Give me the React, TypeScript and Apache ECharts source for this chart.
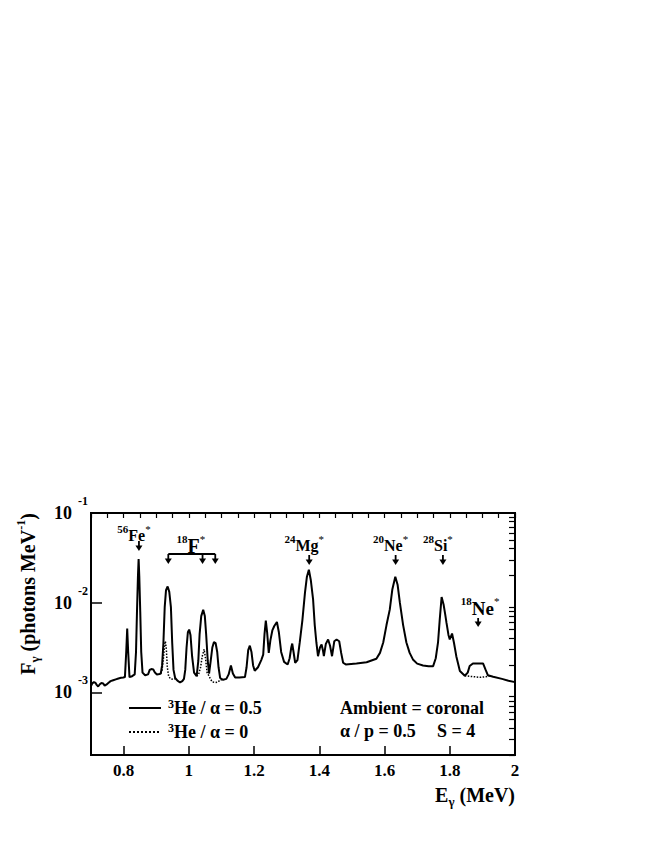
import React, { useEffect, useRef } from 'react';
import * as echarts from 'echarts';

const FONT = 'Liberation Serif';

// Axis ranges and ticks
const xMin = 0.7;
const xMax = 2.0;
const yMin = 2e-4;
const yMax = 0.1;
const xMajorTicks = [0.8, 1.0, 1.2, 1.4, 1.6, 1.8, 2.0];
const yDecades = [1e-3, 1e-2, 1e-1];
const yMinorTicks = [
  2e-4, 3e-4, 4e-4, 5e-4, 6e-4, 7e-4, 8e-4, 9e-4,
  2e-3, 3e-3, 4e-3, 5e-3, 6e-3, 7e-3, 8e-3, 9e-3,
  2e-2, 3e-2, 4e-2, 5e-2, 6e-2, 7e-2, 8e-2, 9e-2,
];

// Series: [E_gamma (MeV), log10 F_gamma (photons MeV^-1)]
const ratioLabels = ['0.5', '0'];
const fluxRatio05: [number, number][] = [
  [0.700, -2.93], [0.704, -2.90], [0.709, -2.885], [0.714, -2.895], [0.718, -2.92], [0.722, -2.935],
  [0.727, -2.91], [0.732, -2.895], [0.737, -2.90], [0.742, -2.925], [0.747, -2.915], [0.753, -2.895],
  [0.760, -2.875], [0.768, -2.865], [0.776, -2.855], [0.784, -2.845], [0.792, -2.838], [0.799, -2.835],
  [0.804, -2.83], [0.808, -2.55], [0.811, -2.29], [0.814, -2.55], [0.818, -2.83], [0.826, -2.82],
  [0.834, -2.80], [0.838, -2.55], [0.841, -2.10], [0.844, -1.70], [0.846, -1.514], [0.848, -1.70],
  [0.851, -2.10], [0.854, -2.55], [0.858, -2.78], [0.866, -2.81], [0.875, -2.80], [0.880, -2.75],
  [0.885, -2.74], [0.891, -2.745], [0.896, -2.78], [0.902, -2.80], [0.910, -2.795], [0.914, -2.79],
  [0.918, -2.70], [0.922, -2.45], [0.926, -2.05], [0.930, -1.86], [0.935, -1.82], [0.940, -1.88],
  [0.945, -2.05], [0.949, -2.45], [0.953, -2.75], [0.958, -2.84], [0.965, -2.87], [0.973, -2.89],
  [0.980, -2.875], [0.985, -2.85], [0.989, -2.75], [0.993, -2.50], [0.997, -2.33], [1.001, -2.30],
  [1.005, -2.36], [1.010, -2.60], [1.016, -2.78], [1.024, -2.82], [1.029, -2.65], [1.033, -2.35],
  [1.038, -2.15], [1.044, -2.08], [1.049, -2.15], [1.053, -2.35], [1.058, -2.65], [1.062, -2.79],
  [1.067, -2.65], [1.072, -2.50], [1.077, -2.44], [1.082, -2.45], [1.087, -2.55], [1.091, -2.72],
  [1.096, -2.84], [1.105, -2.86], [1.115, -2.85], [1.122, -2.80], [1.129, -2.70], [1.135, -2.79],
  [1.142, -2.835], [1.155, -2.835], [1.172, -2.83], [1.177, -2.72], [1.182, -2.53], [1.187, -2.48],
  [1.192, -2.55], [1.197, -2.70], [1.202, -2.76], [1.212, -2.72], [1.222, -2.64], [1.228, -2.58],
  [1.232, -2.35], [1.236, -2.20], [1.240, -2.33], [1.245, -2.56], [1.250, -2.42], [1.256, -2.31],
  [1.262, -2.26], [1.270, -2.215], [1.276, -2.33], [1.283, -2.55], [1.292, -2.66], [1.303, -2.69],
  [1.309, -2.62], [1.314, -2.50], [1.317, -2.456], [1.321, -2.55], [1.326, -2.67], [1.333, -2.64],
  [1.340, -2.444], [1.348, -2.20], [1.356, -1.89], [1.362, -1.71], [1.368, -1.633], [1.374, -1.75],
  [1.381, -1.967], [1.386, -2.25], [1.391, -2.444], [1.396, -2.597], [1.402, -2.50], [1.407, -2.467],
  [1.411, -2.53], [1.414, -2.597], [1.420, -2.46], [1.427, -2.411], [1.433, -2.48], [1.439, -2.597],
  [1.446, -2.43], [1.453, -2.411], [1.461, -2.43], [1.467, -2.56], [1.473, -2.67], [1.481, -2.689],
  [1.514, -2.678], [1.545, -2.665], [1.575, -2.626], [1.586, -2.56], [1.596, -2.444], [1.606, -2.25],
  [1.616, -2.078], [1.624, -1.85], [1.633, -1.711], [1.640, -1.80], [1.647, -2.00], [1.657, -2.25],
  [1.667, -2.444], [1.677, -2.56], [1.687, -2.633], [1.700, -2.68], [1.718, -2.70], [1.735, -2.71],
  [1.749, -2.708], [1.757, -2.62], [1.764, -2.444], [1.769, -2.20], [1.775, -1.937], [1.781, -2.02],
  [1.786, -2.13], [1.790, -2.226], [1.796, -2.36], [1.800, -2.41], [1.807, -2.344], [1.813, -2.45],
  [1.820, -2.597], [1.831, -2.763], [1.846, -2.815], [1.855, -2.78], [1.861, -2.707], [1.871, -2.678],
  [1.902, -2.678], [1.910, -2.75], [1.917, -2.81], [1.933, -2.826], [1.960, -2.85], [1.980, -2.87],
  [2.000, -2.886],
];
// Dotted curve (3He/alpha = 0): only where it departs from the solid one
const fluxRatio0SegA: [number, number][] = [
  [0.914, -2.79], [0.918, -2.75], [0.922, -2.62], [0.926, -2.46], [0.928, -2.43], [0.931, -2.52],
  [0.934, -2.72], [0.938, -2.82], [0.944, -2.85], [0.951, -2.855], [0.958, -2.85],
];
const fluxRatio0SegB: [number, number][] = [
  [1.024, -2.82], [1.030, -2.80], [1.036, -2.72], [1.041, -2.60], [1.047, -2.52], [1.051, -2.62],
  [1.056, -2.78], [1.062, -2.82], [1.066, -2.85], [1.072, -2.885], [1.082, -2.89], [1.090, -2.885],
  [1.096, -2.86], [1.105, -2.86],
];
const fluxRatio0SegC: [number, number][] = [
  [1.846, -2.815], [1.870, -2.825], [1.895, -2.833], [1.922, -2.82],
];

// Line annotations
const singleLines = [
  { mass: '56', sym: 'Fe', energy: 0.847, high: true },
  { mass: '24', sym: 'Mg', energy: 1.369, high: false },
  { mass: '20', sym: 'Ne', energy: 1.634, high: false },
  { mass: '28', sym: 'Si', energy: 1.779, high: false },
];
const f18Energies = [0.937, 1.042, 1.081];
const ne18Energy = 1.887;

const toData = (arr: [number, number][]) => arr.map(([e, l]) => [e, Math.pow(10, l)]);

const seriesNames = ratioLabels.map((r) => `³He / α = ${r}`);

const supRich = {
  b: { fontFamily: FONT, fontWeight: 'bold', fontSize: 17, lineHeight: 24, color: '#000' },
  sup: { fontFamily: FONT, fontWeight: 'bold', fontSize: 11, verticalAlign: 'top', color: '#000' },
  big: { fontFamily: FONT, fontWeight: 'bold', fontSize: 20, lineHeight: 26, color: '#000' },
  bsup: { fontFamily: FONT, fontWeight: 'bold', fontSize: 12, verticalAlign: 'top', color: '#000' },
  sub: { fontFamily: FONT, fontWeight: 'bold', fontSize: 13, verticalAlign: 'bottom', color: '#000' },
  ast: { fontFamily: FONT, fontWeight: 'normal', fontSize: 11, verticalAlign: 'top', color: '#000' },
};

export default function App() {
  const ref = useRef<HTMLDivElement>(null);
  useEffect(() => {
    if (!ref.current) return;
    const chart = echarts.init(ref.current, undefined, { renderer: 'svg' });
    const dottedStyle = { color: '#000', width: 1.5, type: 'dotted' as const };
    const option: any = {
      animation: false,
      backgroundColor: '#fff',
      textStyle: { fontFamily: FONT },
      grid: {
        left: 91, top: 513, width: 424, height: 242,
        show: true, borderColor: '#000', borderWidth: 2, backgroundColor: 'transparent',
      },
      xAxis: [
        {
          type: 'value', min: xMin, max: xMax, gridIndex: 0,
          axisLine: { show: false, onZero: false },
          splitLine: { show: false },
          axisTick: { show: true, inside: true, length: 9, customValues: xMajorTicks, lineStyle: { color: '#000', width: 1.5 } },
          axisLabel: {
            customValues: xMajorTicks, margin: 7, color: '#000',
            fontFamily: FONT, fontWeight: 'bold', fontSize: 17,
            formatter: (v: number) => (Math.abs(v - Math.round(v)) < 1e-9 ? String(Math.round(v)) : v.toFixed(1)),
          },
        },
        {
          type: 'value', min: xMin, max: xMax, interval: 0.05, gridIndex: 0,
          axisLine: { show: false, onZero: false },
          splitLine: { show: false },
          axisTick: { show: true, inside: true, length: 5, lineStyle: { color: '#000', width: 1.2 } },
          axisLabel: { show: false },
        },
      ],
      yAxis: [
        {
          type: 'log', logBase: 10, min: yMin, max: yMax, gridIndex: 0,
          axisLine: { show: false },
          splitLine: { show: false },
          axisTick: { show: true, inside: true, length: 11, customValues: yDecades, lineStyle: { color: '#000', width: 1.5 } },
          axisLabel: {
            customValues: yDecades, margin: 3,
            formatter: (v: number) => `{b|10}{s|${Math.round(Math.log10(v))}}`,
            rich: {
              b: { fontFamily: FONT, fontWeight: 'bold', fontSize: 18, lineHeight: 36, color: '#000' },
              s: { fontFamily: FONT, fontWeight: 'bold', fontSize: 12, verticalAlign: 'top', padding: [0, 0, 0, 6], color: '#000' },
            },
          },
        },
        {
          type: 'log', logBase: 10, min: yMin, max: yMax, gridIndex: 0,
          axisLine: { show: false },
          splitLine: { show: false },
          axisTick: { show: true, inside: true, length: 6, customValues: yMinorTicks, lineStyle: { color: '#000', width: 1.2 } },
          axisLabel: { show: false },
        },
      ],
      legend: {
        data: seriesNames,
        orient: 'vertical', left: 123, top: 693, itemWidth: 32, itemHeight: 12, itemGap: 5,
        selectedMode: false,
        itemStyle: { opacity: 0, color: 'transparent', borderColor: 'transparent', borderWidth: 0 },
        formatter: (name: string) => `{sup|3}{b|${name.slice(1)}}`,
        textStyle: { rich: { b: { ...supRich.b, lineHeight: 20, fontSize: 18 }, sup: { ...supRich.sup, fontSize: 12, padding: [0, 0, 0, 2] } } },
      },
      series: [
        {
          name: seriesNames[1], type: 'line', data: toData(fluxRatio0SegA), symbol: 'none', showSymbol: false,
          lineStyle: dottedStyle, itemStyle: { color: '#000' }, z: 2,
        },
        {
          name: seriesNames[1], type: 'line', data: toData(fluxRatio0SegB), symbol: 'none', showSymbol: false,
          lineStyle: dottedStyle, itemStyle: { color: '#000' }, z: 2,
        },
        {
          name: seriesNames[1], type: 'line', data: toData(fluxRatio0SegC), symbol: 'none', showSymbol: false,
          lineStyle: dottedStyle, itemStyle: { color: '#000' }, z: 2,
        },
        {
          name: seriesNames[0], type: 'line', data: toData(fluxRatio05), symbol: 'none', showSymbol: false,
          lineStyle: { color: '#000', width: 2 }, itemStyle: { color: '#000' }, z: 3,
        },
      ],
    };
    chart.setOption(option);

    const px = (e: number) => chart.convertToPixel({ xAxisIndex: 0, yAxisIndex: 0 }, [e, yMin])[0];
    const top = 513;
    const arrow = (x: number, y1: number, y2: number) => [
      { type: 'line', shape: { x1: x, y1, x2: x, y2: y2 - 4 }, style: { stroke: '#000', lineWidth: 1.8 } },
      { type: 'polygon', shape: { points: [[x - 3.5, y2 - 5.5], [x + 3.5, y2 - 5.5], [x, y2]] }, style: { fill: '#000' } },
    ];
    const g: any[] = [];
    // single line labels
    singleLines.forEach((l) => {
      const x = px(l.energy);
      const yText = l.high ? top + 22 : top + 32;
      const yA = l.high ? top + 28 : top + 42;
      g.push({
        type: 'text', x: x - 5, y: yText,
        style: { text: `{sup|${l.mass}}{b|${l.sym}}{ast|*}`, rich: { ...supRich, b: { ...supRich.b, fontSize: 16 } }, align: 'center', verticalAlign: 'middle' },
      });
      g.push(...arrow(x, yA, yA + 10));
    });
    // 18F bracket
    const fx = f18Energies.map(px);
    const barY = top + 41;
    const tipY = top + 51;
    g.push({ type: 'text', x: (fx[0] + fx[2]) / 2 - 1, y: top + 33,
      style: { text: '{sup|18}{big|F}{ast|*}', rich: supRich, align: 'center', verticalAlign: 'middle' } });
    g.push({ type: 'polyline', shape: { points: [[fx[0], barY], [fx[2], barY]] }, style: { stroke: '#000', lineWidth: 1.8, fill: null } });
    fx.forEach((x) => g.push(...arrow(x, barY, tipY)));
    // 18Ne
    const nx = px(ne18Energy);
    g.push({ type: 'text', x: nx + 2, y: top + 95,
      style: { text: '{sup|18}{big|Ne}{ast|*}', rich: { ...supRich, big: { ...supRich.big, fontSize: 19 } }, align: 'center', verticalAlign: 'middle' } });
    g.push(...arrow(nx, top + 105, top + 114));
    // info texts
    const infoStyle = { fontFamily: FONT, fontWeight: 'bold', fontSize: 18, fill: '#000' };
    g.push({ type: 'text', x: 340, y: 708, style: { ...infoStyle, text: 'Ambient = coronal', align: 'left', verticalAlign: 'middle' } });
    g.push({ type: 'text', x: 340, y: 731, style: { ...infoStyle, text: 'α / p = 0.5', align: 'left', verticalAlign: 'middle' } });
    g.push({ type: 'text', x: 437, y: 731, style: { ...infoStyle, text: 'S = 4', align: 'left', verticalAlign: 'middle' } });
    // axis titles
    g.push({ type: 'text', x: 515, y: 795,
      style: { text: '{big|E}{sub|γ}{big| (MeV)}', rich: supRich, align: 'right', verticalAlign: 'middle' } });
    g.push({ type: 'text', x: 28, y: 594, rotation: Math.PI / 2,
      style: { text: '{big|F}{sub|γ}{big| (photons MeV}{bsup|-1}{big|)}', rich: supRich, align: 'center', verticalAlign: 'middle' } });

    chart.setOption({ graphic: g });
    return () => chart.dispose();
  }, []);
  return <div ref={ref} style={{ position: 'absolute', left: 0, top: 0, width: 654, height: 846 }} />;
}
